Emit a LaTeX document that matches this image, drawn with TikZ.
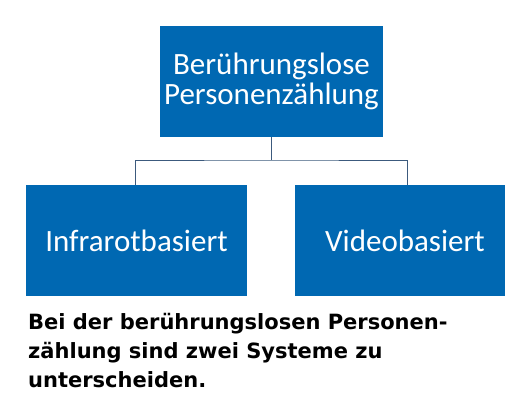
\documentclass[tikz,border=0pt]{standalone}
\usepackage{fontspec}
\setmainfont{Carlito}
\newfontfamily\captionfont{DejaVu Sans}
\definecolor{boxblue}{RGB}{0,104,178}
\definecolor{linecol}{RGB}{60,90,125}
\begin{document}
\begin{tikzpicture}[x=1pt,y=-1pt,
  bluebox/.style={fill=boxblue,draw=none,text=white,align=center,inner sep=0pt,font=\fontsize{31}{30}\selectfont},
  conn/.style={draw=linecol,line width=0.8pt}]
\useasboundingbox (0,0) rectangle (531,408);
\node[bluebox,minimum width=223pt,minimum height=111pt] (top) at (271.5,81.5) {Berührungslose\\Personenzählung};
\node[bluebox,minimum width=221pt,minimum height=111pt] (left) at (136.5,240.5) {Infrarotbasiert};
\node[bluebox,minimum width=210pt,minimum height=111pt] (right) at (400,240.5) {\hspace*{10pt}Videobasiert};
\coordinate (j) at (271.5,160);
\draw[conn] (top.south) -- (j);
\draw[conn] (left.north -| 135,0) |- (j) -| (right.north -| 407,0);
\node[anchor=base west,inner sep=0pt,align=left,font=\captionfont\bfseries\fontsize{21}{29}\selectfont] (cap) at (28,387) {Bei der berührungslosen Personen-\\zählung sind zwei Systeme zu\\unterscheiden.};
\end{tikzpicture}
\end{document}
